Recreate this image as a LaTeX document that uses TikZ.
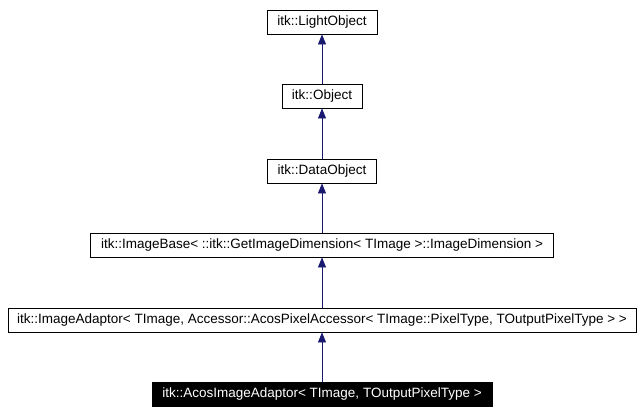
\documentclass[tikz,border=0pt]{standalone}
\usepackage{fontspec}
\setmainfont{Liberation Sans}
\usetikzlibrary{arrows.meta}
\begin{document}
\begin{tikzpicture}[x=1pt,y=-1pt,
  cls/.style={draw=black,line width=0.8pt,fill=white,minimum height=24pt,inner sep=0pt,font=\fontsize{13.5}{15}\selectfont},
  cur/.style={cls,fill=black,text=white},
  inh/.style={draw=navyblue,line width=0.8pt,-{Triangle[width=8pt,length=10pt]}}]
\definecolor{navyblue}{RGB}{25,25,112}
\useasboundingbox (0,0) rectangle (644,415);
\node[cls,minimum width=110pt] (lo) at (322,22) {itk::LightObject};
\node[cls,minimum width=80pt] (ob) at (322,96) {itk::Object};
\node[cls,minimum width=109pt] (do) at (322,171) {itk::DataObject};
\node[cls,minimum width=463pt] (ib) at (322,245) {itk::ImageBase< ::itk::GetImageDimension< TImage >::ImageDimension >};
\node[cls,minimum width=628pt] (ia) at (322,320) {itk::ImageAdaptor< TImage, Accessor::AcosPixelAccessor< TImage::PixelType, TOutputPixelType > >};
\node[cur,minimum width=340pt] (ac) at (322,394) {itk::AcosImageAdaptor< TImage, TOutputPixelType >};
\draw[inh] (ob) -- (lo);
\draw[inh] (do) -- (ob);
\draw[inh] (ib) -- (do);
\draw[inh] (ia) -- (ib);
\draw[inh] (ac) -- (ia);
\end{tikzpicture}
\end{document}
